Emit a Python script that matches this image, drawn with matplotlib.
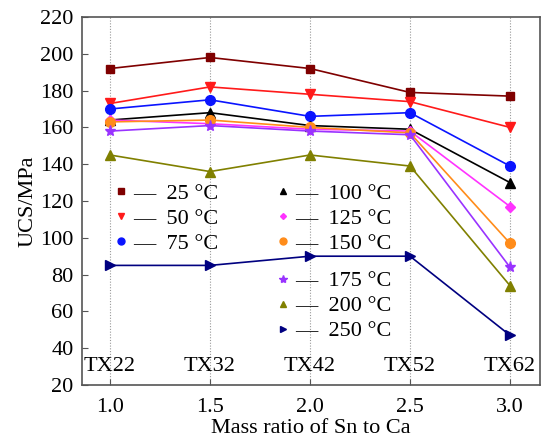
import matplotlib
matplotlib.use("Agg")
import matplotlib.pyplot as plt
from matplotlib.lines import Line2D

plt.rcParams['font.family'] = ['Liberation Serif', 'DejaVu Serif']

ratio = [1.0, 1.5, 2.0, 2.5, 3.0]
samples = ['TX22', 'TX32', 'TX42', 'TX52', 'TX62']
temps = ['25', '50', '75', '100', '125', '150', '175', '200', '250']
ucs_25 = [192, 198, 192, 179, 177]
ucs_50 = [173, 182, 178, 174, 160]
ucs_75 = [170, 175, 166, 168, 139]
ucs_100 = [164, 168, 161, 159, 130]
ucs_125 = [164, 162, 159, 158, 117]
ucs_150 = [163, 164, 160, 157, 97]
ucs_175 = [158, 161, 158, 156, 84]
ucs_200 = [145, 136, 145, 139, 74]
ucs_250 = [85, 85, 90, 90, 47]
series = [ucs_25, ucs_50, ucs_75, ucs_100, ucs_125, ucs_150, ucs_175, ucs_200, ucs_250]

colors = ['#7f0000', '#ff1a1a', '#0a14ff', '#000000', '#ff33ff', '#ff8c1a', '#9933ff', '#808000', '#000080']
markers = ['s', 'v', 'o', '^', 'D', 'o', '*', '^', '>']
msizes = [6, 7, 7, 7, 5, 7, 8, 7, 7]

fig = plt.figure(figsize=(5.41, 4.44), dpi=100)
ax = fig.add_axes([82 / 541, 59 / 444, 458 / 541, 368 / 444])

for x in ratio:
    ax.axvline(x, color='#999999', lw=0.8, ls=(0, (1, 1.5)), zorder=0)

handles = []
for vals, c, m, ms, t in zip(series, colors, markers, msizes, temps):
    ax.plot(ratio, vals, color=c, marker=m, ms=ms, lw=1.2)
    handles.append(Line2D([], [], color=c, marker=m, ms=ms - 2, ls='none',
                          label='\u2015  ' + t + ' °C'))

for x, s in zip(ratio, samples):
    ax.text(x, 30, s, ha='center', va='center', fontsize=16)

ax.set_xlim(0.86, 3.15)
ax.set_ylim(20, 220)
ax.set_xticks(ratio)
ax.set_xticklabels(['1.0', '1.5', '2.0', '2.5', '3.0'])
ax.set_yticks(range(20, 221, 20))
ax.tick_params(direction='in', labelsize=16, length=4, color='#555555')
ax.tick_params(axis='x', pad=9)
ax.tick_params(axis='y', pad=6)
for sp in ax.spines.values():
    sp.set_color('#555555')
    sp.set_linewidth(1.2)
ax.set_xlabel('Mass ratio of Sn to Ca', fontsize=16, labelpad=2)
ax.set_ylabel('UCS/MPa', fontsize=16, labelpad=2)

kw = dict(frameon=False, fontsize=16, handlelength=0.4, handletextpad=0.35,
          labelspacing=0.2, borderpad=0, borderaxespad=0, loc='upper left')
leg1 = ax.legend(handles=handles[0:3], bbox_to_anchor=(0.075, 0.548), **kw)
ax.add_artist(leg1)
leg2 = ax.legend(handles=handles[3:6], bbox_to_anchor=(0.43, 0.548), **kw)
ax.add_artist(leg2)
ax.legend(handles=handles[6:9], bbox_to_anchor=(0.43, 0.31), **kw)

fig.savefig('out.png', dpi=100)
